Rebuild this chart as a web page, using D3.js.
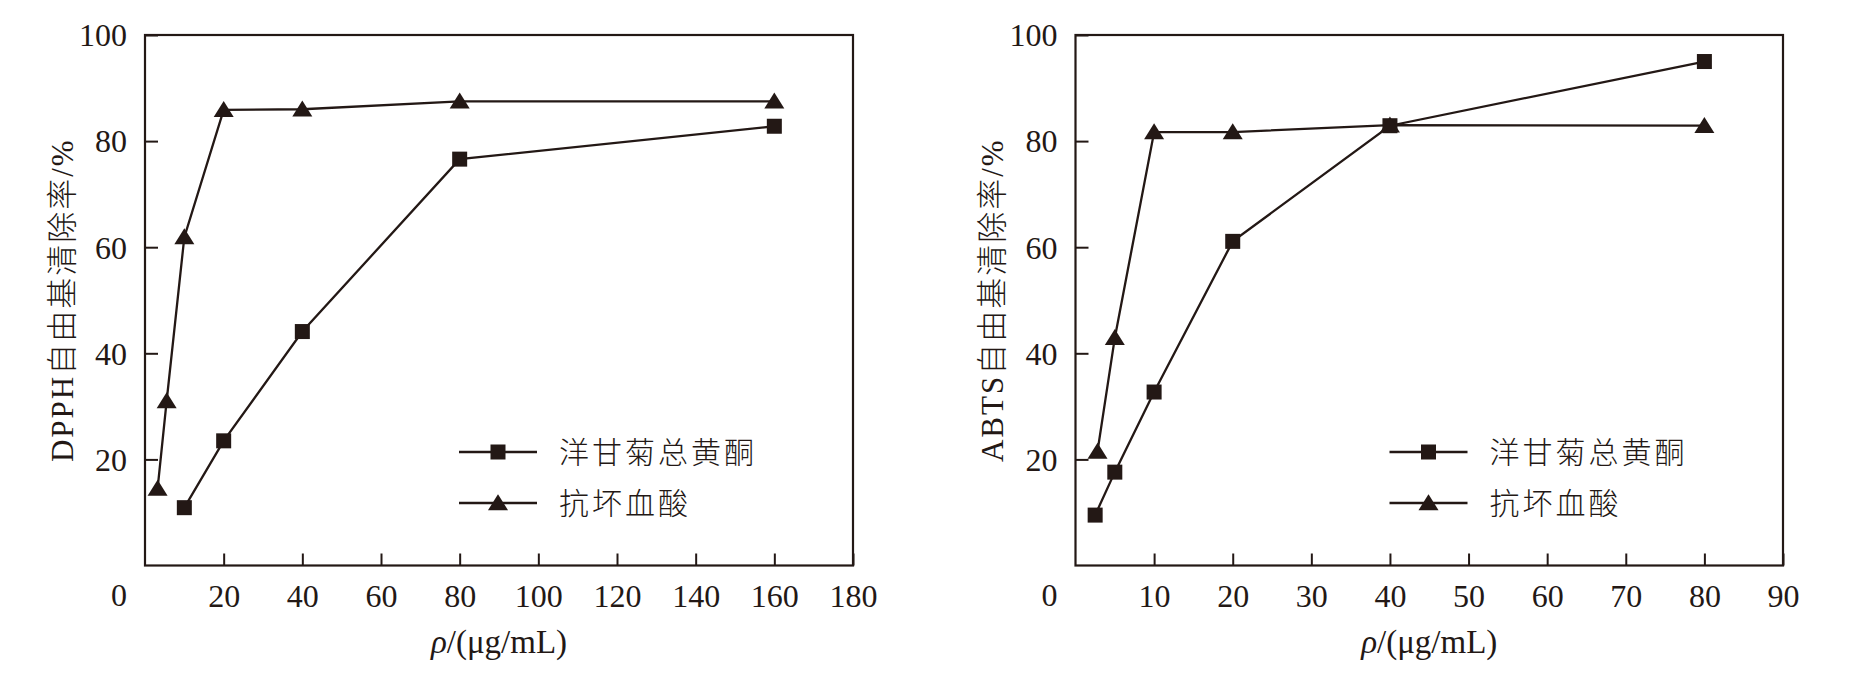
<!DOCTYPE html>
<html>
<head>
<meta charset="utf-8">
<script src="https://cdn.jsdelivr.net/npm/d3@7"></script>
<style>
  html, body { margin: 0; padding: 0; background: #fff; }
  svg { display: block; }
  text { fill: #231815; }
</style>
</head>
<body>
<svg id="chart" width="1857" height="678"></svg>
<script>
// ---------- DATA ----------
const seriesNames = ["洋甘菊总黄酮", "抗坏血酸"];

// Left panel: DPPH
const dpphFlavX = [10, 20, 40, 80, 160];
const dpphFlavY = [10.9, 23.5, 44.1, 76.6, 82.8];
const dpphVcX = [3.2, 5.5, 10, 20, 40, 80, 160];
const dpphVcY = [14.5, 31.0, 61.9, 85.9, 86.0, 87.5, 87.5];
const dpphXTicks = [20, 40, 60, 80, 100, 120, 140, 160, 180];

// Right panel: ABTS
const abtsFlavX = [2.5, 5, 10, 20, 40, 80];
const abtsFlavY = [9.5, 17.6, 32.7, 61.1, 82.9, 95.0];
const abtsVcX = [2.8, 5, 10, 20, 40, 80];
const abtsVcY = [21.5, 42.9, 81.7, 81.7, 83.0, 82.9];
const abtsXTicks = [10, 20, 30, 40, 50, 60, 70, 80, 90];

const yTicks = [20, 40, 60, 80, 100];
const yTitles = ["DPPH自由基清除率/%", "ABTS自由基清除率/%"];
const xTitleParts = ["ρ", "/(μg/mL)"];

// ---------- DRAW ----------
const INK = "#231815";
const svg = d3.select("#chart");
const serif = "'Liberation Serif', 'Times New Roman', 'Noto Sans CJK SC', serif";

const panels = [
  { left: 145, right: 853, xMax: 180, xTicks: dpphXTicks,
    flav: dpphFlavX.map((x, i) => [x, dpphFlavY[i]]),
    vc: dpphVcX.map((x, i) => [x, dpphVcY[i]]),
    yTitle: yTitles[0] },
  { left: 1075.5, right: 1783, xMax: 90, xTicks: abtsXTicks,
    flav: abtsFlavX.map((x, i) => [x, abtsFlavY[i]]),
    vc: abtsVcX.map((x, i) => [x, abtsVcY[i]]),
    yTitle: yTitles[1] }
];
const plotTop = 35, plotBottom = 565.5;
const tickFont = 32;

const triPath = (w, h) => `M0,${-h * 0.55}L${w / 2},${h * 0.45}L${-w / 2},${h * 0.45}Z`;

panels.forEach(p => {
  const x = d3.scaleLinear().domain([0, p.xMax]).range([p.left, p.right]);
  const y = d3.scaleLinear().domain([0, 100]).range([plotBottom, plotTop]);
  const g = svg.append("g");

  // y axis
  const ya = g.append("g").attr("transform", `translate(${p.left},0)`)
    .call(d3.axisLeft(y).tickValues(yTicks).tickSize(-13).tickPadding(18));
  ya.select(".domain").remove();
  ya.selectAll("line").attr("stroke", INK).attr("stroke-width", 2);
  ya.selectAll("text").attr("font-family", serif).attr("font-size", tickFont)
    .attr("fill", INK).attr("dy", "0.34em");

  // x axis
  const xa = g.append("g").attr("transform", `translate(0,${plotBottom})`)
    .call(d3.axisBottom(x).tickValues(p.xTicks).tickSize(-12).tickPadding(19));
  xa.select(".domain").remove();
  xa.selectAll("line").attr("stroke", INK).attr("stroke-width", 2);
  xa.selectAll("text").attr("font-family", serif).attr("font-size", tickFont).attr("fill", INK);

  // origin label
  g.append("text").attr("x", x(0) - 26).attr("y", plotBottom + 30)
    .attr("text-anchor", "middle").attr("dy", "0.34em")
    .attr("font-family", serif).attr("font-size", tickFont).text("0");

  // frame
  g.append("rect").attr("x", p.left).attr("y", plotTop)
    .attr("width", p.right - p.left).attr("height", plotBottom - plotTop)
    .attr("fill", "none").attr("stroke", INK).attr("stroke-width", 2.2);

  // lines
  const line = d3.line().x(d => x(d[0])).y(d => y(d[1]));
  [p.flav, p.vc].forEach(s => {
    g.append("path").attr("d", line(s)).attr("fill", "none")
      .attr("stroke", INK).attr("stroke-width", 2.3);
  });
  // markers
  g.selectAll(".sq").data(p.flav).join("rect")
    .attr("x", d => x(d[0]) - 7.5).attr("y", d => y(d[1]) - 7.5)
    .attr("width", 15).attr("height", 15).attr("fill", INK);
  g.selectAll(".tri").data(p.vc).join("path")
    .attr("d", triPath(20, 16))
    .attr("transform", d => `translate(${x(d[0])},${y(d[1])})`)
    .attr("fill", INK);

  // legend
  const lx = p.left + 314, ly = [452, 503];
  seriesNames.forEach((name, i) => {
    g.append("line").attr("x1", lx).attr("x2", lx + 78)
      .attr("y1", ly[i]).attr("y2", ly[i]).attr("stroke", INK).attr("stroke-width", 2.3);
    if (i === 0) {
      g.append("rect").attr("x", lx + 39 - 7.5).attr("y", ly[i] - 7.5)
        .attr("width", 15).attr("height", 15).attr("fill", INK);
    } else {
      g.append("path").attr("d", triPath(20, 16))
        .attr("transform", `translate(${lx + 39},${ly[i]})`).attr("fill", INK);
    }
    g.append("text").attr("x", lx + 100).attr("y", ly[i]).attr("dy", "0.36em")
      .attr("font-family", "'Noto Sans CJK SC', sans-serif").attr("font-weight", 300)
      .attr("font-size", 30).attr("letter-spacing", 3).text(name);
  });

  // y title
  g.append("text")
    .attr("transform", `translate(${p.left - 83.5},${(plotTop + plotBottom) / 2}) rotate(-90)`)
    .attr("text-anchor", "middle").attr("dy", "0.36em")
    .attr("font-family", serif).attr("font-size", 31).attr("letter-spacing", 2)
    .attr("font-weight", 300)
    .text(p.yTitle);

  // x title
  const xt = g.append("text").attr("x", (p.left + p.right) / 2).attr("y", 653)
    .attr("text-anchor", "middle").attr("font-family", serif).attr("font-size", 33);
  xt.append("tspan").attr("font-style", "italic").text(xTitleParts[0]);
  xt.append("tspan").text(xTitleParts[1]);
});
</script>
</body>
</html>
